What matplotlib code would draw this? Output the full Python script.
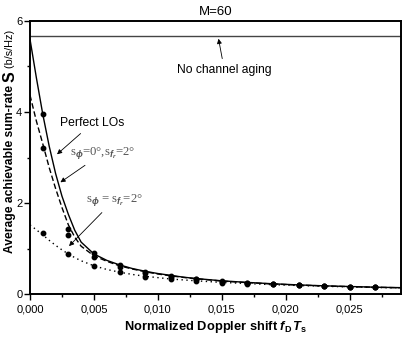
import numpy as np
import matplotlib
matplotlib.use("Agg")
import matplotlib.pyplot as plt
from matplotlib.ticker import MultipleLocator, FuncFormatter

plt.rcParams['font.family'] = ['Liberation Sans', 'DejaVu Sans']
plt.rcParams['mathtext.fontset'] = 'custom'
plt.rcParams['mathtext.rm'] = 'Liberation Sans:bold'
plt.rcParams['mathtext.it'] = 'Liberation Sans:italic:bold'
plt.rcParams['mathtext.bf'] = 'Liberation Sans:bold'

# analytical curves
fd_curve = [0.0, 0.0005, 0.001, 0.0015, 0.002, 0.0025, 0.003, 0.0035, 0.004,
            0.005, 0.006, 0.007, 0.008, 0.009, 0.010, 0.011, 0.012, 0.013,
            0.015, 0.017, 0.019, 0.021, 0.023, 0.025, 0.027, 0.029]
rate_perfect = [5.6, 4.75, 3.95, 3.25, 2.65, 2.15, 1.75, 1.40, 1.14,
                0.88, 0.74, 0.64, 0.56, 0.50, 0.45, 0.41, 0.37, 0.34,
                0.29, 0.255, 0.225, 0.20, 0.18, 0.165, 0.15, 0.14]
rate_phase0 = [4.37, 3.80, 3.30, 2.78, 2.32, 1.90, 1.52, 1.25, 1.05,
               0.84, 0.72, 0.62, 0.55, 0.49, 0.44, 0.40, 0.365, 0.335,
               0.285, 0.25, 0.22, 0.197, 0.177, 0.162, 0.148, 0.137]
rate_both = [1.52, 1.41, 1.30, 1.18, 1.07, 0.97, 0.88, 0.80, 0.73,
             0.62, 0.54, 0.48, 0.43, 0.39, 0.36, 0.33, 0.31, 0.29,
             0.255, 0.23, 0.205, 0.187, 0.170, 0.156, 0.144, 0.133]

# simulated points
fd_sim = [0.001, 0.003, 0.005, 0.007, 0.009, 0.011, 0.013,
          0.015, 0.017, 0.019, 0.021, 0.023, 0.025, 0.027]
sim_perfect = [3.96, 1.43, 0.90, 0.64, 0.49, 0.40, 0.33,
               0.28, 0.245, 0.22, 0.20, 0.18, 0.165, 0.15]
sim_phase0 = [3.20, 1.30, 0.81, 0.60, 0.47, 0.38, 0.32,
              0.27, 0.24, 0.215, 0.195, 0.175, 0.16, 0.145]
sim_both = [1.34, 0.88, 0.62, 0.48, 0.37, 0.33, 0.29,
            0.25, 0.23, 0.21, 0.19, 0.175, 0.16, 0.145]

no_aging_rate = 5.67

fig = plt.figure(figsize=(4.07, 3.44), dpi=100)
ax = fig.add_axes([0.0737, 0.1453, 0.9113, 0.7937])

ax.axhline(no_aging_rate, color='#444444', lw=1.0)
ax.plot(fd_curve, rate_perfect, color='black', lw=1.0)
ax.plot(fd_curve, rate_phase0, color='black', lw=1.0, linestyle=(0, (4, 2)))
ax.plot(fd_curve, rate_both, color='black', lw=1.0, linestyle=(0, (1, 2.5)))
for sim in (sim_perfect, sim_phase0, sim_both):
    ax.plot(fd_sim, sim, 'o', color='black', markersize=3.2, linestyle='none')

ax.set_xlim(0, 0.029)
ax.set_ylim(0, 6)
ax.xaxis.set_major_locator(MultipleLocator(0.005))
ax.xaxis.set_minor_locator(MultipleLocator(0.0025))
ax.yaxis.set_major_locator(MultipleLocator(2))
ax.yaxis.set_minor_locator(MultipleLocator(1))
ax.xaxis.set_major_formatter(FuncFormatter(lambda v, p: f"{v:.3f}".replace('.', ',')))
ax.tick_params(which='both', labelsize=8, direction='out', top=False, right=False)
ax.tick_params(which='major', length=4, width=1)
ax.tick_params(which='minor', length=2.5, width=1)
ax.tick_params(axis='y', which='major', pad=1.5)
for s in ax.spines.values():
    s.set_linewidth(1.4)

ax.set_title('M=60', fontsize=9.5, pad=4)
ax.set_xlabel(r'Normalized Doppler shift $\it{f}_{\rm D}\,\it{T}_{\rm s}$',
              fontsize=9.3, fontweight='bold', labelpad=3)

# y label built from three pieces (different sizes, like the original)
renderer = fig.canvas.get_renderer()
y_px = 344 - 253
pieces = [('Average achievable sum-rate ', 8.7, 'bold'),
          ('S', 11.5, 'bold'),
          (' (b/s/Hz)', 7.8, 'normal')]
for txt, size, weight in pieces:
    t = fig.text(10 / 407, y_px / 344, txt, rotation=90, fontsize=size,
                 fontweight=weight, ha='center', va='bottom')
    y_px += t.get_window_extent(renderer).height

arrow = dict(arrowstyle='-|>', color='black', lw=0.6, mutation_scale=7)
ax.annotate('No channel aging', xy=(0.0147, no_aging_rate), xytext=(0.0152, 4.92),
            fontsize=8.7, ha='center', va='center', arrowprops=arrow)
ax.annotate('Perfect LOs', xy=(0.00195, 3.03), xytext=(0.0049, 3.76),
            fontsize=8.7, ha='center', va='center', arrowprops=arrow)
serif = ['Liberation Serif', 'DejaVu Serif']
ax.annotate(r's$_{\phi}$=0°,s$_{f_r}$=2°', xy=(0.0022, 2.42), xytext=(0.0057, 3.1),
            fontsize=9.2, ha='center', va='center', color='#555555', family=serif,
            arrowprops=arrow)
ax.annotate(r's$_{\phi}$ = s$_{f_r}$=2°', xy=(0.0029, 1.01), xytext=(0.0066, 2.07),
            fontsize=9.2, ha='center', va='center', color='#555555', family=serif,
            arrowprops=arrow)

fig.savefig('out.png', dpi=100)
